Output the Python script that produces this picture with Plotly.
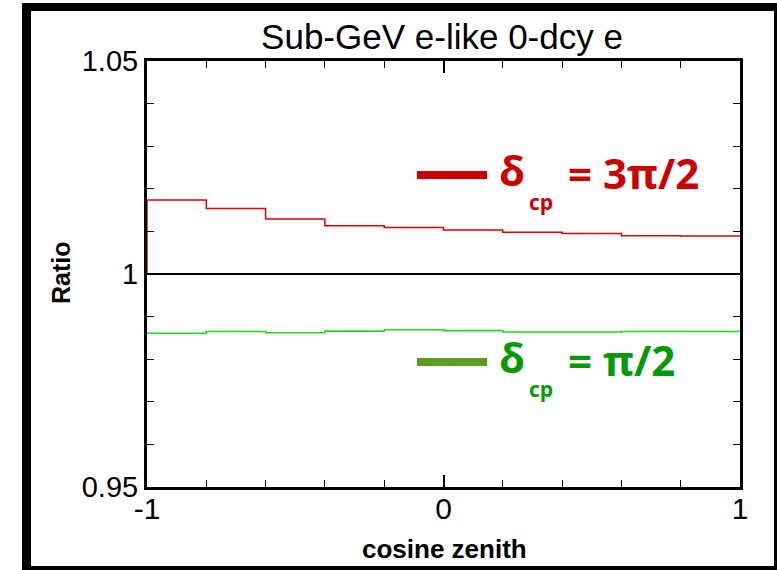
import plotly.graph_objects as go

# Zenith-angle binning (cosine of zenith angle) and oscillation ratios
bin_edges = [-1.0, -0.8, -0.6, -0.4, -0.2, 0.0, 0.2, 0.4, 0.6, 0.8, 1.0]
ratio_3pi2 = [1.0174, 1.0154, 1.0129, 1.0113, 1.0109, 1.0103, 1.0098, 1.0095, 1.0090, 1.0089]
ratio_pi2 = [0.9861, 0.9865, 0.9862, 0.9866, 0.9869, 0.9867, 0.9864, 0.9864, 0.9865, 0.9865]
reference_ratio = 1.0

x_ticks = [-1, 0, 1]
x_ticktext = ["-1", "0", "1"]
y_ticks = [0.95, 1.0, 1.05]
y_ticktext = ["0.95", "1", "1.05"]

title_text = "Sub-GeV e-like 0-dcy e"
x_title = "cosine zenith"
y_title = "Ratio"
legend_labels = [("3π/2", "#cc0000", "#cc0000"), ("π/2", "#5a9e20", "#079a07")]

W, H = 777, 570
L, R, T, B = 147, 37, 61, 83
PW, PH = W - L - R, H - T - B


def px(xp):
    return (xp - L) / PW


def py(yp):
    return (H - B - yp) / PH


def steps(edges, vals, start=None):
    xs = list(edges[:-1]) + [edges[-1]]
    ys = list(vals) + [vals[-1]]
    if start is not None:
        xs = [edges[0]] + xs
        ys = [start] + ys
    return xs, ys


fig = go.Figure()

xr, yr = steps(bin_edges, ratio_3pi2, start=reference_ratio)
fig.add_trace(go.Scatter(x=xr, y=yr, mode="lines", line=dict(color="#e00000", width=1.5, shape="hv"),
                         showlegend=False, hoverinfo="skip", cliponaxis=False))
xg, yg = steps(bin_edges, ratio_pi2)
fig.add_trace(go.Scatter(x=xg, y=yg, mode="lines", line=dict(color="#1fd81f", width=1.6, shape="hv"),
                         showlegend=False, hoverinfo="skip"))

shapes = []
# reference line at ratio = 1
shapes.append(dict(type="line", xref="paper", yref="y", x0=0, x1=1, y0=reference_ratio, y1=reference_ratio,
                   line=dict(color="black", width=2), layer="below"))

# outer frame
frame = [(22, 3, 31, 570), (22, 3, 777, 11), (774, 3, 777, 570), (22, 566, 777, 570)]
for x0, y0, x1, y1 in frame:
    shapes.append(dict(type="rect", xref="paper", yref="paper", x0=px(x0), x1=px(x1), y0=py(y0), y1=py(y1),
                       fillcolor="black", line=dict(width=0)))

annotations = []
legend_rows = [175, 362]
for (label, bar_col, txt_col), yc in zip(legend_labels, legend_rows):
    shapes.append(dict(type="rect", xref="paper", yref="paper", x0=px(417), x1=px(487),
                       y0=py(yc + 4), y1=py(yc - 4), fillcolor=bar_col, line=dict(width=0)))
    annotations.append(dict(xref="paper", yref="paper", x=px(497), y=py(yc - 6), text="δ", showarrow=False,
                            xanchor="left", yanchor="middle",
                            font=dict(family="Open Sans", size=42, color=txt_col, weight="bold")))
    annotations.append(dict(xref="paper", yref="paper", x=px(527), y=py(yc + 27), text="cp", showarrow=False,
                            xanchor="left", yanchor="middle",
                            font=dict(family="Open Sans", size=21, color=txt_col, weight="bold")))
    annotations.append(dict(xref="paper", yref="paper", x=px(566), y=py(yc - 3), text="= " + label,
                            showarrow=False, xanchor="left", yanchor="middle",
                            font=dict(family="Open Sans", size=42, color=txt_col, weight="bold")))

annotations.append(dict(xref="paper", yref="paper", x=px(61), y=py(273), text=y_title, textangle=-90,
                        showarrow=False, xanchor="center", yanchor="middle",
                        font=dict(family="Liberation Sans", size=25, color="black", weight="bold")))
annotations.append(dict(xref="paper", yref="paper", x=px(444), y=py(549), text=x_title,
                        showarrow=False, xanchor="center", yanchor="middle",
                        font=dict(family="Liberation Sans", size=26, color="black", weight="bold")))

fig.update_layout(
    width=W, height=H,
    margin=dict(l=L, r=R, t=T, b=B),
    paper_bgcolor="white", plot_bgcolor="white",
    title=dict(text=title_text, x=px(442), xref="paper", xanchor="center", y=1 - 37 / H, yanchor="middle",
               font=dict(family="Liberation Sans", size=35, color="black")),
    shapes=shapes, annotations=annotations,
    xaxis=dict(range=[-1, 1], tickvals=x_ticks, ticktext=x_ticktext, ticks="inside", ticklen=12, tickwidth=1.5,
               tickcolor="black", showline=True, linewidth=3, linecolor="black", mirror="ticks",
               showgrid=False, zeroline=False, ticklabelstandoff=-7,
               minor=dict(ticks="inside", ticklen=7, tickwidth=1.2, tickcolor="black", dtick=0.2, tick0=-1,
                          showgrid=False),
               tickfont=dict(family="Liberation Sans", size=30, color="black")),
    yaxis=dict(range=[0.95, 1.05], tickvals=y_ticks, ticktext=y_ticktext, ticks="inside", ticklen=12,
               tickwidth=1.5, tickcolor="black", showline=True, linewidth=3, linecolor="black", mirror="ticks",
               showgrid=False, zeroline=False,
               minor=dict(ticks="inside", ticklen=7, tickwidth=1.2, tickcolor="black", dtick=0.01, tick0=0.95,
                          showgrid=False),
               tickfont=dict(family="Liberation Sans", size=29, color="black")),
)

fig.write_html("out.html")
